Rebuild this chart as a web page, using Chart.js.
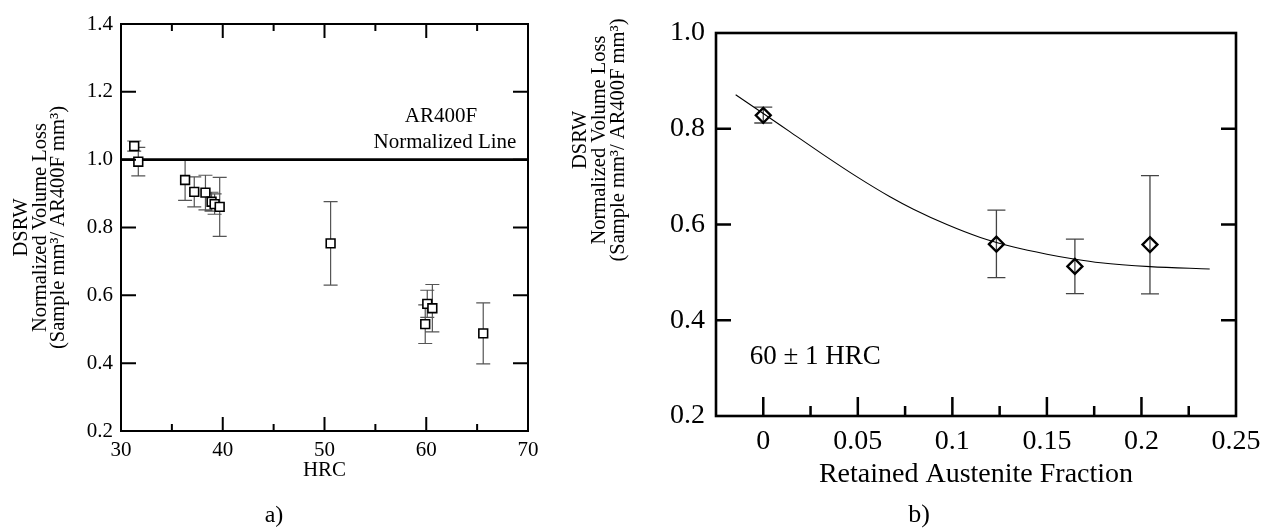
<!DOCTYPE html>
<html><head><meta charset="utf-8">
<script src="https://cdn.jsdelivr.net/npm/chart.js@4.4.1/dist/chart.umd.min.js"></script>
<style>
html,body{margin:0;padding:0;background:#fff;}
#wrap{position:relative;width:1263px;height:530px;overflow:hidden;background:#fff;}
.box{position:absolute;top:0;}
</style></head><body>
<div id="wrap">
  <div class="box" style="left:0;width:560px;height:530px"><canvas id="ca" width="560" height="530"></canvas></div>
  <div class="box" style="left:560px;width:703px;height:530px"><canvas id="cb" width="703" height="530"></canvas></div>
</div>
<script>
// ===== a) Volume loss vs hardness =====
const hrc       = [31.3, 31.7, 36.3, 37.2, 38.3, 38.9, 39.2, 39.7, 50.6, 59.9, 60.1, 60.6, 65.6];
const volLossA  = [1.04, 0.994, 0.94, 0.905, 0.903, 0.876, 0.869, 0.861, 0.753, 0.515, 0.575, 0.562, 0.488];
const errA      = [0.015, 0.042, 0.06, 0.044, 0.051, 0.028, 0.03, 0.087, 0.123, 0.057, 0.04, 0.07, 0.09];
const normLine  = [1.0];
const xTicksA      = [30, 40, 50, 60, 70];
const xTickLabelsA = ['30', '40', '50', '60', '70'];
const xMinorA      = [35, 45, 55, 65];
const yTicksA      = [0.2, 0.4, 0.6, 0.8, 1.0, 1.2, 1.4];
const yTickLabelsA = ['0.2', '0.4', '0.6', '0.8', '1.0', '1.2', '1.4'];

// ===== b) Volume loss vs retained austenite =====
const austenite = [0, 0.1233, 0.1648, 0.2045];
const volLossB  = [0.828, 0.559, 0.5125, 0.558];
const errPlusB  = [0.017, 0.071, 0.057, 0.144];
const errMinusB = [0.016, 0.07, 0.057, 0.103];
const fitX = [-0.0146, 0, 0.014, 0.0317, 0.0494, 0.067, 0.0794, 0.0971, 0.1148, 0.1324, 0.150, 0.1642, 0.1784, 0.2045, 0.2361];
const fitY = [0.871, 0.832, 0.794, 0.746, 0.700, 0.658, 0.632, 0.600, 0.573, 0.553, 0.538, 0.528, 0.520, 0.512, 0.507];
const xTicksB      = [0, 0.05, 0.1, 0.15, 0.2, 0.25];
const xTickLabelsB = ['0', '0.05', '0.1', '0.15', '0.2', '0.25'];
const xMinorB      = [0.025, 0.075, 0.125, 0.175, 0.225];
const yTicksB      = [0.2, 0.4, 0.6, 0.8, 1.0];
const yTickLabelsB = ['0.2', '0.4', '0.6', '0.8', '1.0'];

const yTitleLines = ['DSRW', 'Normalized Volume Loss', '(Sample mm\u00B3/ AR400F mm\u00B3)'];

const serif = "'Liberation Serif', 'Times New Roman', serif";

// ---- plugins ----
const axisDecor = {
  id: 'axisDecor',
  afterDraw(chart, args, o) {
    const {ctx, chartArea: a, scales: {x, y}} = chart;
    ctx.save();
    ctx.strokeStyle = '#000';
    ctx.lineWidth = o.tickWidth;
    ctx.beginPath();
    (o.yMajor || []).forEach(v => {
      const p = y.getPixelForValue(v);
      if (o.left)  { ctx.moveTo(a.left, p);  ctx.lineTo(a.left + o.yLen, p); }
      if (o.right) { ctx.moveTo(a.right, p); ctx.lineTo(a.right - o.yLen, p); }
    });
    (o.xMajor || []).forEach(v => {
      const p = x.getPixelForValue(v);
      if (o.bottom) { ctx.moveTo(p, a.bottom); ctx.lineTo(p, a.bottom - o.xLen); }
      if (o.top)    { ctx.moveTo(p, a.top);    ctx.lineTo(p, a.top + o.xLen); }
    });
    (o.xMinor || []).forEach(v => {
      const p = x.getPixelForValue(v);
      if (o.bottom) { ctx.moveTo(p, a.bottom); ctx.lineTo(p, a.bottom - o.xMinorLen); }
      if (o.top)    { ctx.moveTo(p, a.top);    ctx.lineTo(p, a.top + o.xMinorLen); }
    });
    ctx.stroke();
    ctx.lineWidth = o.frameWidth;
    ctx.strokeRect(a.left, a.top, a.right - a.left, a.bottom - a.top);
    ctx.restore();
  }
};

const errorBars = {
  id: 'errorBars',
  beforeDatasetsDraw(chart, args, o) {
    const {ctx, scales: {x, y}} = chart;
    const ds = chart.data.datasets[o.dataset];
    ctx.save();
    ctx.strokeStyle = o.color;
    ctx.lineWidth = o.width;
    ctx.beginPath();
    ds.data.forEach((pt, i) => {
      const px = x.getPixelForValue(pt.x);
      const top = y.getPixelForValue(pt.y + o.plus[i]);
      const bot = y.getPixelForValue(pt.y - o.minus[i]);
      ctx.moveTo(px, top); ctx.lineTo(px, bot);
      ctx.moveTo(px - o.cap, top); ctx.lineTo(px + o.cap, top);
      ctx.moveTo(px - o.cap, bot); ctx.lineTo(px + o.cap, bot);
    });
    ctx.stroke();
    ctx.restore();
  }
};

const textNotes = {
  id: 'textNotes',
  afterDraw(chart, args, o) {
    const {ctx, scales: {x, y}} = chart;
    o.items.forEach(it => {
      ctx.save();
      ctx.font = it.size + 'px ' + serif;
      ctx.fillStyle = '#000';
      ctx.textAlign = it.align || 'center';
      ctx.textBaseline = 'middle';
      const px = it.data ? x.getPixelForValue(it.x) : it.x;
      const py = it.data ? y.getPixelForValue(it.y) : it.y;
      ctx.translate(px, py);
      if (it.rot) ctx.rotate(it.rot);
      const lines = Array.isArray(it.text) ? it.text : [it.text];
      const lh = it.lh || it.size;
      lines.forEach((t, k) => ctx.fillText(t, 0, (k - (lines.length - 1) / 2) * lh));
      ctx.restore();
    });
  }
};

Chart.defaults.font.family = serif;
Chart.defaults.color = '#000';

const noGrid = {display: false, drawTicks: false, drawOnChartArea: false};

// ---- chart a ----
new Chart(document.getElementById('ca'), {
  type: 'scatter',
  data: {
    datasets: [
      {
        label: 'Samples',
        data: hrc.map((h, i) => ({x: h, y: volLossA[i]})),
        pointStyle: 'rect', pointRadius: 6.2, borderWidth: 1.6,
        borderColor: '#000', backgroundColor: '#fff'
      },
      {
        type: 'line', label: 'AR400F Normalized Line',
        data: [{x: xTicksA[0], y: normLine[0]}, {x: xTicksA[xTicksA.length - 1], y: normLine[0]}],
        borderColor: '#000', borderWidth: 2.6, pointRadius: 0, fill: false
      }
    ]
  },
  options: {
    responsive: false, animation: false, devicePixelRatio: 1,
    layout: {padding: {left: 0, top: 24, right: 32, bottom: 0}},
    plugins: {
      legend: {display: false}, tooltip: {enabled: false},
      axisDecor: {tickWidth: 2, frameWidth: 2, left: true, right: true, top: true, bottom: true,
        yMajor: yTicksA.slice(1, -1), yLen: 15, xMajor: xTicksA.slice(1, -1), xLen: 14, xMinor: xMinorA, xMinorLen: 7},
      errorBars: {dataset: 0, plus: errA, minus: errA, cap: 7, color: '#555', width: 1.2},
      textNotes: {items: [
        {text: 'AR400F', x: 61.45, y: 1.126, data: true, size: 21},
        {text: 'Normalized Line', x: 61.84, y: 1.052, data: true, size: 21},
        {text: 'a)', x: 274, y: 516, size: 24}
      ]}
    },
    scales: {
      x: {
        type: 'linear', min: 30, max: 70,
        grid: noGrid, border: {display: false},
        afterFit(s) { s.height = 99; s.paddingLeft = 0; s.paddingRight = 0; },
        afterBuildTicks(s) { s.ticks = xTicksA.map(v => ({value: v})); },
        ticks: {padding: 8.5, color: '#000', maxRotation: 0, autoSkip: false,
          font: {family: serif, size: 21, lineHeight: 1}, callback: (v, i) => xTickLabelsA[i]},
        title: {display: true, text: 'HRC', color: '#000',
          font: {family: serif, size: 21, lineHeight: 1}, padding: {top: 0, bottom: 49}}
      },
      y: {
        type: 'linear', min: 0.2, max: 1.4,
        grid: noGrid, border: {display: false},
        afterFit(s) { s.width = 121; s.paddingTop = 0; s.paddingBottom = 0; },
        afterBuildTicks(s) { s.ticks = yTicksA.map(v => ({value: v})); },
        ticks: {padding: 8, color: '#000', autoSkip: false,
          font: {family: serif, size: 21, lineHeight: 1}, callback: (v, i) => yTickLabelsA[i]},
        title: {display: true, text: yTitleLines, color: '#000',
          font: {family: serif, size: 20.5, lineHeight: 0.9}, padding: {top: 12.5, bottom: 0}}
      }
    }
  },
  plugins: [axisDecor, errorBars, textNotes]
});

// ---- chart b ----
new Chart(document.getElementById('cb'), {
  type: 'scatter',
  data: {
    datasets: [
      {
        label: 'Samples (60 HRC)',
        data: austenite.map((a, i) => ({x: a, y: volLossB[i]})),
        pointStyle: 'rectRot', pointRadius: 7.5, borderWidth: 2.3,
        borderColor: '#000', backgroundColor: 'rgba(0,0,0,0)'
      },
      {
        type: 'line', label: 'Fit',
        data: fitX.map((v, i) => ({x: v, y: fitY[i]})),
        borderColor: '#000', borderWidth: 1.1, pointRadius: 0, fill: false,
        cubicInterpolationMode: 'monotone'
      }
    ]
  },
  options: {
    responsive: false, animation: false, devicePixelRatio: 1,
    layout: {padding: {left: 0, top: 33, right: 27, bottom: 0}},
    plugins: {
      legend: {display: false}, tooltip: {enabled: false},
      axisDecor: {tickWidth: 2.5, frameWidth: 2.6, left: true, right: true, top: false, bottom: true,
        yMajor: yTicksB.slice(1, -1), yLen: 15, xMajor: xTicksB.slice(0, -1), xLen: 19, xMinor: xMinorB, xMinorLen: 10},
      errorBars: {dataset: 0, plus: errPlusB, minus: errMinusB, cap: 9, color: '#444', width: 1.3},
      textNotes: {items: [
        {text: '60 \u00B1 1 HRC', x: -0.0072, y: 0.3234, data: true, size: 27, align: 'left'},
        {text: yTitleLines, x: 39.8, y: 140, size: 20.5, lh: 19, rot: -Math.PI / 2},
        {text: 'b)', x: 359, y: 515, size: 26}
      ]}
    },
    scales: {
      x: {
        type: 'linear', min: -0.025, max: 0.25,
        grid: noGrid, border: {display: false},
        afterFit(s) { s.height = 114; s.paddingLeft = 0; s.paddingRight = 0; },
        afterBuildTicks(s) { s.ticks = xTicksB.map(v => ({value: v})); },
        ticks: {padding: 12, color: '#000', maxRotation: 0, autoSkip: false,
          font: {family: serif, size: 28, lineHeight: 1}, callback: (v, i) => xTickLabelsB[i]},
        title: {display: true, text: 'Retained Austenite Fraction', color: '#000',
          font: {family: serif, size: 28, lineHeight: 1}, padding: {top: 0, bottom: 41}}
      },
      y: {
        type: 'linear', min: 0.2, max: 1.0,
        grid: noGrid, border: {display: false},
        afterFit(s) { s.width = 156; s.paddingTop = 0; s.paddingBottom = 0; },
        afterBuildTicks(s) { s.ticks = yTicksB.map(v => ({value: v})); },
        ticks: {padding: 11, color: '#000', autoSkip: false,
          font: {family: serif, size: 28, lineHeight: 1}, callback: (v, i) => yTickLabelsB[i]},
        title: {display: false}
      }
    }
  },
  plugins: [axisDecor, errorBars, textNotes]
});
</script>
</body></html>
